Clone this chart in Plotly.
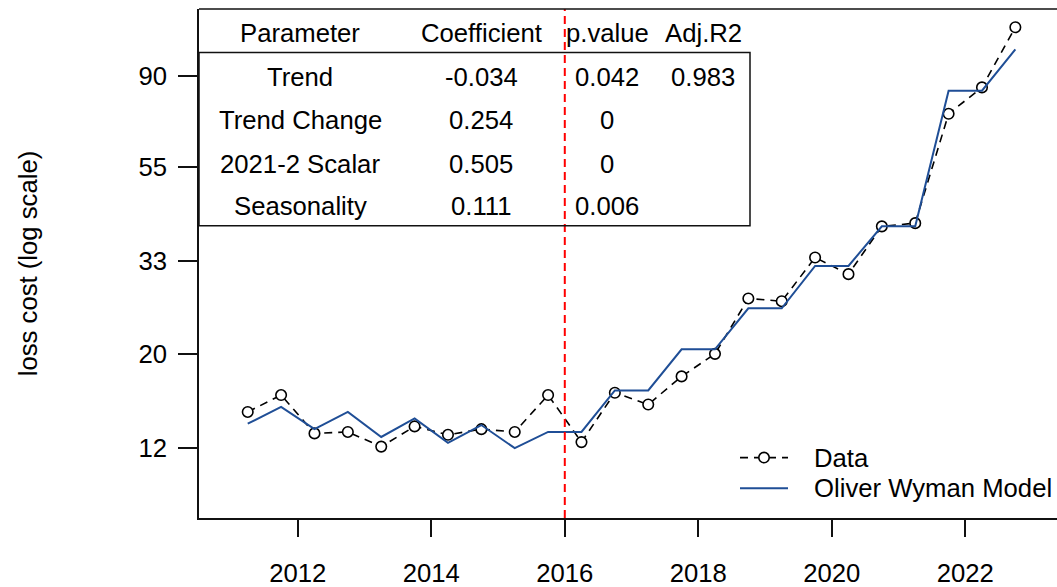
import math
import plotly.graph_objects as go

# ---------------- data ----------------
periods = [2011.25, 2011.75, 2012.25, 2012.75, 2013.25, 2013.75, 2014.25, 2014.75,
           2015.25, 2015.75, 2016.25, 2016.75, 2017.25, 2017.75, 2018.25, 2018.75,
           2019.25, 2019.75, 2020.25, 2020.75, 2021.25, 2021.75, 2022.25, 2022.75]
data_values = [14.6, 16.0, 13.0, 13.1, 12.1, 13.5, 12.9, 13.3,
               13.1, 16.0, 12.4, 16.2, 15.2, 17.7, 20.0, 27.0,
               26.6, 33.7, 30.8, 39.9, 40.6, 73.4, 84.7, 117.3]
model_values = [13.7, 15.0, 13.3, 14.6, 12.75, 14.1, 12.35, 13.6,
                12.0, 13.1, 13.1, 16.4, 16.4, 20.5, 20.5, 25.6,
                25.6, 32.2, 32.2, 39.9, 39.9, 83.2, 83.2, 104.0]
break_year = 2016

x_ticks = [2012, 2014, 2016, 2018, 2020, 2022]
y_ticks = [12, 20, 33, 55, 90]

series_names = ["Data", "Oliver Wyman Model"]

table_header = ["Parameter", "Coefficient", "p.value", "Adj.R2"]
parameters = ["Trend", "Trend Change", "2021-2 Scalar", "Seasonality"]
coefficients = ["-0.034", "0.254", "0.505", "0.111"]
p_values = ["0.042", "0", "0", "0.006"]
adj_r2 = ["0.983", "", "", ""]

# ---------------- style ----------------
FONT = "Liberation Sans, Arial, sans-serif"
FS = 25.7
W, H = 1057, 587
ML, MR, MT, MB = 199, 0, 9, 64
PW, PH = W - ML - MR, H - MT - MB
DATA_DASH = "8px,6px"
MODEL_COLOR = "#1f4e96"
FRAME = "#111111"


def px_x(px):
    return (px - ML) / PW


def px_y(py):
    return 1 - (py - MT) / PH


fig = go.Figure()

fig.add_trace(go.Scatter(
    x=periods, y=data_values, name=series_names[0], mode="lines+markers",
    line=dict(color="black", width=1.6, dash=DATA_DASH),
    marker=dict(symbol="circle", size=10.5, color="white",
                line=dict(color="black", width=1.6)),
))
fig.add_trace(go.Scatter(
    x=periods, y=model_values, name=series_names[1], mode="lines",
    line=dict(color=MODEL_COLOR, width=2),
))

shapes = []
# red break line
shapes.append(dict(type="line", xref="x", yref="paper", x0=break_year, x1=break_year,
                   y0=0, y1=1, line=dict(color="#ff0000", width=2, dash="8px,5px")))
# top frame line
shapes.append(dict(type="line", xref="paper", yref="paper", x0=0, x1=1, y0=1, y1=1,
                   line=dict(color=FRAME, width=1.5)))
# table box
shapes.append(dict(type="rect", xref="paper", yref="paper",
                   x0=0, x1=px_x(750), y0=px_y(228), y1=px_y(53),
                   line=dict(color=FRAME, width=1.5), fillcolor="rgba(0,0,0,0)"))

# legend (drawn like R's legend)
leg_x0, leg_x1, leg_text_x = 740, 788, 813
leg_rows = [462, 493]
shapes.append(dict(type="line", xref="paper", yref="paper",
                   x0=px_x(leg_x0), x1=px_x(leg_x1), y0=px_y(leg_rows[0]), y1=px_y(leg_rows[0]),
                   line=dict(color="black", width=1.6, dash=DATA_DASH)))
shapes.append(dict(type="circle", xref="paper", yref="paper",
                   xsizemode="pixel", ysizemode="pixel",
                   xanchor=px_x((leg_x0 + leg_x1) / 2), yanchor=px_y(leg_rows[0]),
                   x0=-5.2, x1=5.2, y0=-5.2, y1=5.2,
                   line=dict(color="black", width=1.6), fillcolor="white"))
shapes.append(dict(type="line", xref="paper", yref="paper",
                   x0=px_x(leg_x0), x1=px_x(leg_x1), y0=px_y(leg_rows[1]), y1=px_y(leg_rows[1]),
                   line=dict(color=MODEL_COLOR, width=2)))

annotations = []
for name, ry in zip(series_names, leg_rows):
    annotations.append(dict(x=px_x(leg_text_x), y=px_y(ry), xref="paper", yref="paper",
                            text=name, showarrow=False, xanchor="left", yanchor="middle",
                            borderpad=0,
                            font=dict(family=FONT, size=FS, color="black")))

col_x = [300, 481, 607, 703]
row_y = [33, 78, 121, 166, 208]
for c, txt in enumerate(table_header):
    annotations.append(dict(x=px_x(col_x[c]), y=px_y(row_y[0]), xref="paper", yref="paper",
                            text=txt, showarrow=False, xanchor="center", yanchor="middle",
                            font=dict(family=FONT, size=FS, color="black")))
columns = [parameters, coefficients, p_values, adj_r2]
for c, col in enumerate(columns):
    for r, txt in enumerate(col):
        if txt == "":
            continue
        annotations.append(dict(x=px_x(col_x[c]), y=px_y(row_y[r + 1]), xref="paper", yref="paper",
                                text=txt, showarrow=False, xanchor="center", yanchor="middle",
                                font=dict(family=FONT, size=FS, color="black")))

x0_year = 2010.52
x_per_px = 1 / 66.75
fig.update_layout(
    width=W, height=H,
    margin=dict(l=ML, r=MR, t=MT, b=MB, pad=0),
    paper_bgcolor="white", plot_bgcolor="white",
    font=dict(family=FONT, size=FS, color="black"),
    showlegend=False,
    shapes=shapes,
    annotations=annotations,
    xaxis=dict(range=[x0_year, x0_year + PW * x_per_px], tickvals=x_ticks,
               ticktext=[str(v) for v in x_ticks],
               ticks="outside", ticklen=17, tickwidth=1.5, tickcolor=FRAME,
               showline=True, linecolor=FRAME, linewidth=1.5,
               showgrid=False, zeroline=False, ticklabelstandoff=14,
               tickfont=dict(family=FONT, size=FS, color="black")),
    yaxis=dict(type="log", range=[math.log10(8.22), math.log10(129.5)],
               tickvals=y_ticks, ticktext=[str(v) for v in y_ticks],
               ticks="outside", ticklen=19, tickwidth=1.5, tickcolor=FRAME,
               showline=True, linecolor=FRAME, linewidth=1.5,
               showgrid=False, zeroline=False, ticklabelstandoff=6,
               tickfont=dict(family=FONT, size=FS, color="black"),
               title=dict(text="loss cost (log scale)", standoff=94,
                          font=dict(family=FONT, size=FS, color="black"))),
)

fig.write_html("out.html",
               config={"displayModeBar": False},
               post_script="document.body.style.margin='0';document.body.style.overflow='hidden';")
